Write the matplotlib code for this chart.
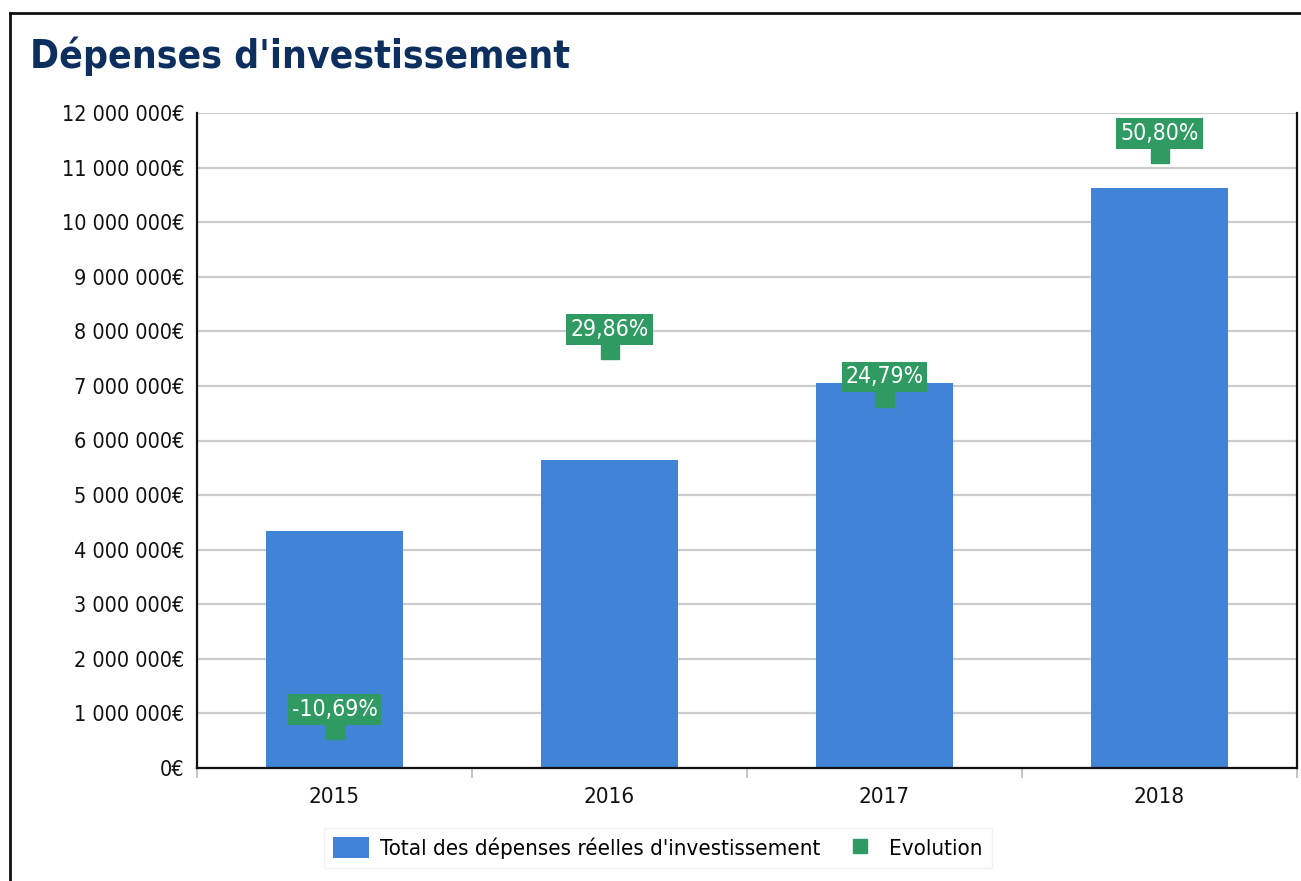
import matplotlib
matplotlib.use("Agg")
import matplotlib.pyplot as plt
from matplotlib.lines import Line2D
from matplotlib.ticker import FixedLocator, FuncFormatter

years = ["2015", "2016", "2017", "2018"]
depenses = [4350000, 5650000, 7050000, 10620000]
evolution = [-10.69, 29.86, 24.79, 50.80]
evolution_labels = ["-10,69%", "29,86%", "24,79%", "50,80%"]
y_ticks = list(range(0, 12000001, 1000000))

BLUE = "#4183d7"
GREEN = "#2f9a62"
TITLE_COLOR = "#0c2f5f"

plt.rcParams["font.family"] = ["DejaVu Sans"]
plt.rcParams["font.stretch"] = "condensed"

W, H = 1301, 881
fig = plt.figure(figsize=(W / 100, H / 100), dpi=100)
ax = fig.add_axes([197 / W, 1 - 768 / H, (1297 - 197) / W, (768 - 113) / H])

x = list(range(len(years)))
ax.bar(x, depenses, width=0.5, color=BLUE, zorder=2,
       label="Total des dépenses réelles d'investissement")
ax.set_xlim(-0.5, len(years) - 0.5)
ax.set_ylim(0, 12000000)

ax.yaxis.set_major_locator(FixedLocator(y_ticks))
ax.yaxis.set_major_formatter(FuncFormatter(lambda v, p: f"{int(v):,}".replace(",", " ") + "€"))
ax.tick_params(axis="y", length=0, pad=9, labelsize=15.5, labelcolor="#111111")
ax.set_xticks(x)
ax.set_xticklabels(years)
ax.tick_params(axis="x", which="major", length=0, pad=14, labelsize=16, labelcolor="#111111")
ax.set_xticks([i - 0.5 for i in range(len(years) + 1)], minor=True)
ax.tick_params(axis="x", which="minor", length=7, width=1.2, color="#bbbbbb")

ax.grid(axis="y", color="#cccccc", linewidth=1.6, zorder=0)
ax.set_axisbelow(True)
for s in ["left", "bottom", "right"]:
    ax.spines[s].set_color("#111111")
    ax.spines[s].set_linewidth(1.6)
ax.spines["top"].set_visible(False)

ax2 = ax.twinx()
ax2.set_ylim(-14.74, 55.19)
ax2.axis("off")
ax2.plot(x, evolution, linestyle="none", marker="s", markersize=13,
         color=GREEN, label="Evolution", zorder=3)
for xi, v, lab in zip(x, evolution, evolution_labels):
    ax2.annotate(lab, (xi, v), xytext=(0, 15), textcoords="offset points",
                 ha="center", va="center", color="white", fontsize=16.5,
                 bbox=dict(boxstyle="square,pad=0.17", fc=GREEN, ec="none"), zorder=4)

h1, l1 = ax.get_legend_handles_labels()
h2 = [Line2D([], [], linestyle="none", marker="s", markersize=10, color=GREEN)]
leg = fig.legend(h1 + h2, l1 + ["Evolution"], loc="center", ncol=2,
                 bbox_to_anchor=(658 / W, 1 - 848 / H), fontsize=16,
                 frameon=True, fancybox=False, edgecolor="#eeeeee",
                 handlelength=1.6, handleheight=1.1, columnspacing=1.0, handletextpad=0.5,
                 borderpad=0.4)

fig.text(30 / W, 1 - 56 / H, "Dépenses d'investissement", fontsize=28, fontweight="bold",
         color=TITLE_COLOR, va="center", ha="left")

fig.add_artist(Line2D([10 / W, 10 / W], [0, 1 - 13 / H], color="#111111", linewidth=2,
                      transform=fig.transFigure))
fig.add_artist(Line2D([10 / W, 1], [1 - 13 / H, 1 - 13 / H], color="#111111", linewidth=2,
                      transform=fig.transFigure))

fig.savefig("out.png", dpi=100)
